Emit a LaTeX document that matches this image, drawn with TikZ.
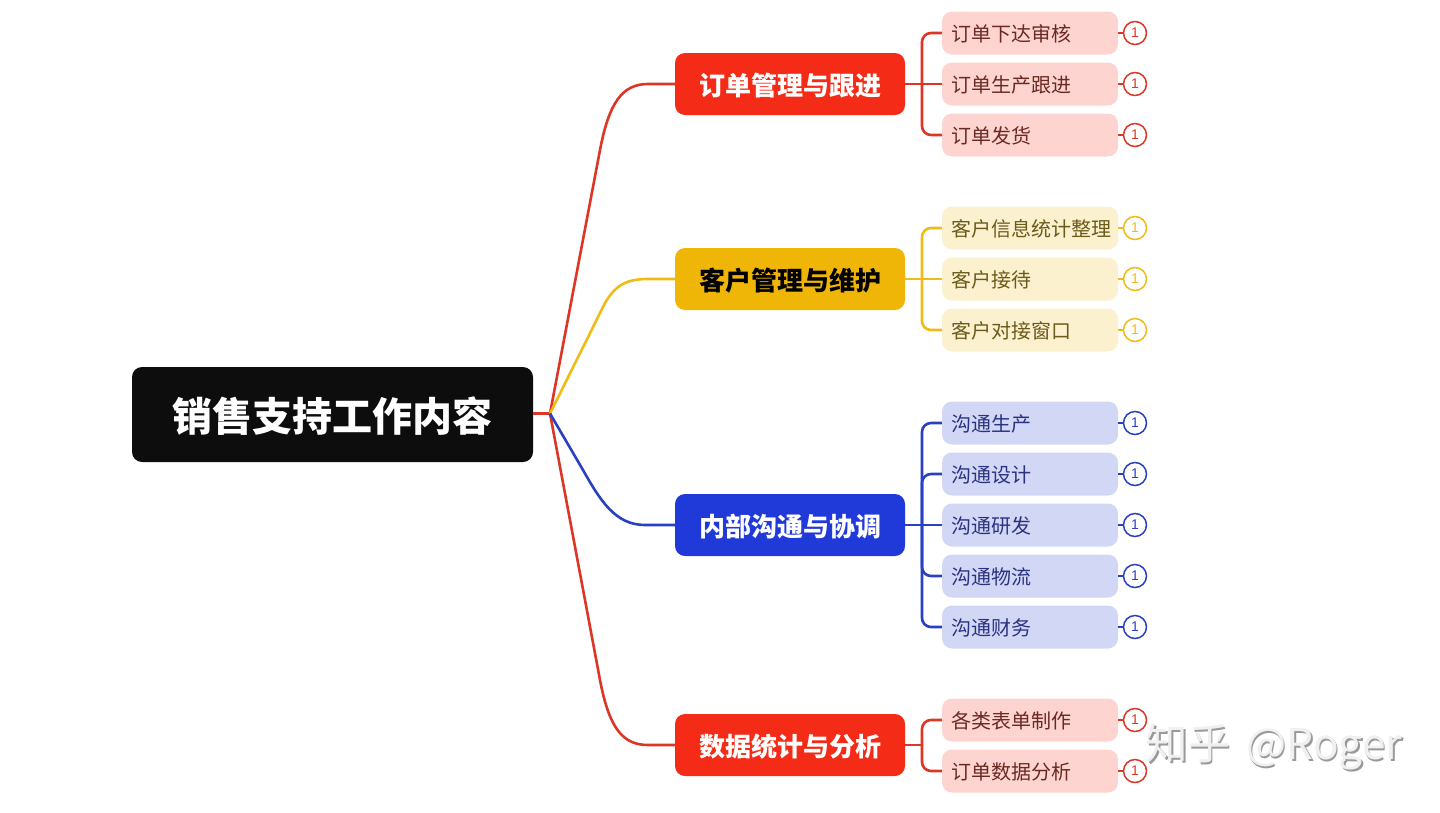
\documentclass[tikz,border=0pt]{standalone}
\usepackage{fontspec}
\setmainfont{Noto Sans CJK SC}
\newfontfamily\digitfont{Liberation Sans}
\definecolor{redmain}{HTML}{F32B17}
\definecolor{redline}{HTML}{DC3626}
\definecolor{redleaf}{HTML}{FDD4CF}
\definecolor{redtext}{HTML}{6A2A22}
\definecolor{yellowmain}{HTML}{F0B607}
\definecolor{yellowline}{HTML}{EFBC17}
\definecolor{yellowleaf}{HTML}{FBF1CE}
\definecolor{yellowtext}{HTML}{6C5A1C}
\definecolor{bluemain}{HTML}{2039D9}
\definecolor{blueline}{HTML}{2A40C2}
\definecolor{blueleaf}{HTML}{D3D7F6}
\definecolor{bluetext}{HTML}{2A3380}
\tikzset{
  root/.style = {fill=black!95,text=white,rounded corners=10pt,minimum width=401pt,
    minimum height=95pt,inner sep=0pt,text height=34.4pt,text depth=0pt,
    font=\fontsize{40}{44}\selectfont\bfseries},
  branch/.style = {fill=#1main,rounded corners=10pt,minimum width=230pt,
    minimum height=62pt,inner sep=0pt,text height=22.8pt,text depth=0pt,
    font=\fontsize{26}{30}\selectfont\bfseries},
  leaf/.style = {fill=#1leaf,text=#1text,rounded corners=10pt,minimum width=176pt,
    minimum height=43pt,inner ysep=0pt,inner xsep=9pt,text width=158pt,align=left,
    text height=17.2pt,text depth=0pt,font=\fontsize{20}{24}\selectfont},
  marker/.style = {circle,draw=#1line,line width=1.5pt,fill=white,text=#1line,
    minimum size=23pt,inner sep=0pt,font=\digitfont\fontsize{14}{15}\selectfont},
  link/.style = {draw=#1line,line width=2.6pt},
  elbow/.style = {link=#1,rounded corners=9pt},
  watermark/.style = {font=\fontsize{42.5}{46}\selectfont}
}
\newcommand{\leafrow}[4]{%
  \node[leaf=#1] (#2) at (1030,#3) {#4};
  \node[marker=#1] (#2m) at (1135,#3) {1};
  \draw[link=#1] (#2.east) -- (#2m.west);
}
\begin{document}
\begin{tikzpicture}[x=1pt,y=-1pt]
  \useasboundingbox (0,0) rectangle (1440,812);
  % main nodes
  \node[root] (main) at (332.5,414.5) {销售支持工作内容};
  \node[branch=red,text=white] (order) at (790,84) {订单管理与跟进};
  \node[branch=yellow,text=black] (client) at (790,279) {客户管理与维护};
  \node[branch=blue,text=white] (inner) at (790,525) {内部沟通与协调};
  \node[branch=red,text=white] (data) at (790,745) {数据统计与分析};
  \coordinate (hub) at (550,413.5);
  % leaves
  \leafrow{red}{o1}{33}{订单下达审核}
  \leafrow{red}{o2}{84}{订单生产跟进}
  \leafrow{red}{o3}{135}{订单发货}
  \leafrow{yellow}{c1}{228}{客户信息统计整理}
  \leafrow{yellow}{c2}{279}{客户接待}
  \leafrow{yellow}{c3}{330}{客户对接窗口}
  \leafrow{blue}{i1}{423}{沟通生产}
  \leafrow{blue}{i2}{474}{沟通设计}
  \leafrow{blue}{i3}{525}{沟通研发}
  \leafrow{blue}{i4}{576}{沟通物流}
  \leafrow{blue}{i5}{627}{沟通财务}
  \leafrow{red}{d1}{720}{各类表单制作}
  \leafrow{red}{d2}{771}{订单数据分析}
  % curves from the main node
  \draw[link=red] (main.east |- hub) -- (hub);
  \draw[link=red] (hub) -- (600,150) .. controls (609,103) and (622,84) .. (648,84) -- (order.west);
  \draw[link=red] (hub) -- (600,680) .. controls (609,727) and (622,745) .. (648,745) -- (data.west);
  \draw[link=yellow] (hub) -- (605,303) .. controls (616,284) and (628,279) .. (648,279) -- (client.west);
  \draw[link=blue] (hub) -- (583,470) .. controls (600,500) and (615,525) .. (645,525) -- (inner.west);
  % stems
  \coordinate (ostem) at (922,84);
  \coordinate (cstem) at (922,279);
  \coordinate (istem) at (922,525);
  \coordinate (dstem) at (922,745);
  \draw[link=red] (order.east) -- (o2.west);
  \draw[elbow=red] (ostem) |- (o1.west);
  \draw[elbow=red] (ostem) |- (o3.west);
  \draw[link=yellow] (client.east) -- (c2.west);
  \draw[elbow=yellow] (cstem) |- (c1.west);
  \draw[elbow=yellow] (cstem) |- (c3.west);
  \draw[link=blue] (inner.east) -- (i3.west);
  \draw[elbow=blue] (istem) |- (i1.west);
  \draw[elbow=blue] (istem) |- (i2.west);
  \draw[elbow=blue] (istem) |- (i4.west);
  \draw[elbow=blue] (istem) |- (i5.west);
  \draw[link=red] (data.east) -- (dstem);
  \draw[elbow=red] (dstem) |- (d1.west);
  \draw[elbow=red] (dstem) |- (d2.west);
  % watermark
  \node[watermark,text=black!40] (markshade) at (1275.5,748.5) {知乎\hspace{6pt} @Roger};
  \node[watermark,text=black!6] (marktext) at (1274,747) {知乎\hspace{6pt} @Roger};
\end{tikzpicture}
\end{document}
